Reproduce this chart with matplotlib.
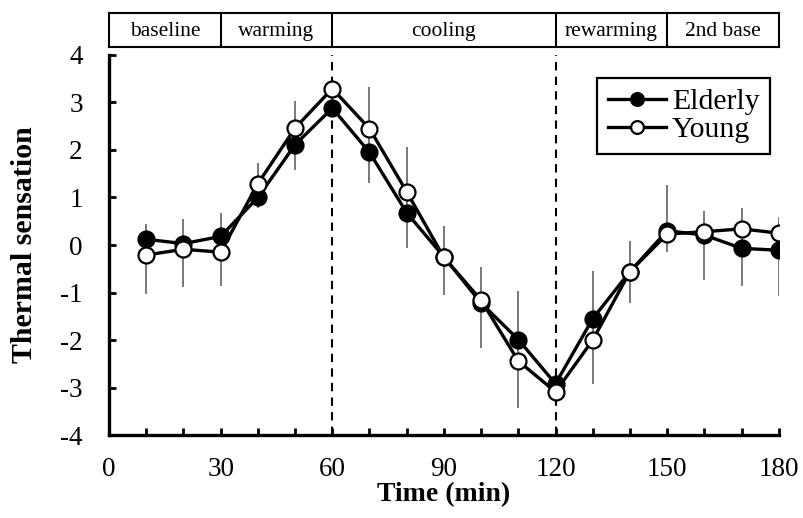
import matplotlib
matplotlib.use("Agg")
import matplotlib.pyplot as plt
import numpy as np

plt.rcParams['font.family'] = ['Liberation Serif', 'DejaVu Serif']
plt.rcParams['axes.unicode_minus'] = False

time = [10, 20, 30, 40, 50, 60, 70, 80, 90, 100, 110, 120, 130, 140, 150, 160, 170, 180]
elderly = [0.12, 0.03, 0.18, 1.0, 2.11, 2.88, 1.95, 0.68, -0.25, -1.22, -1.99, -2.92,
           -1.55, -0.56, 0.3, 0.21, -0.07, -0.11]
young = [-0.21, -0.09, -0.15, 1.29, 2.46, 3.29, 2.45, 1.12, -0.26, -1.16, -2.44, -3.09,
         -2.0, -0.56, 0.23, 0.28, 0.34, 0.25]
# error bar ends (one bar per time point, as drawn in the figure)
err_hi = [0.44, 0.55, 0.67, 1.72, 3.04, np.nan, 3.33, 2.07, 0.39, -0.47, -0.96, np.nan,
          -0.54, 0.08, 1.27, 0.72, 0.77, 0.58]
err_lo = [-1.03, -0.89, -0.87, 0.77, 1.58, np.nan, 1.31, -0.07, -1.05, -2.16, -3.42, np.nan,
          -2.93, -1.23, -0.14, -0.74, -0.87, -1.08]

phases = ['baseline', 'warming', 'cooling', 'rewarming', '2nd base']
phase_edges = [0, 30, 60, 120, 150, 180]

fig = plt.figure(figsize=(8.04, 5.18), dpi=100)
ax = fig.add_axes([0.1356, 0.160, 0.833, 0.734])

ax.vlines(time, err_lo, err_hi, color='#555555', lw=1.1, zorder=1)
for xv in [60, 120]:
    ax.plot([xv, xv], [-4, 4], color='black', lw=1.5, ls=(0, (4, 3)), zorder=1)

ax.plot(time, elderly, '-o', color='black', lw=2.4, ms=11.5, mfc='black',
        mec='black', mew=1.6, label='Elderly', zorder=3)
ax.plot(time, young, '-o', color='black', lw=2.4, ms=11.5, mfc='white',
        mec='black', mew=1.6, label='Young', zorder=4)

ax.set_xlim(0, 180)
ax.set_ylim(-4, 4)
ax.set_xticks(range(0, 181, 30))
ax.set_xticks(range(0, 181, 10), minor=True)
ax.set_yticks(range(-4, 5))
ax.spines['top'].set_visible(False)
ax.spines['right'].set_visible(False)
ax.spines['left'].set_linewidth(2.4)
ax.spines['bottom'].set_linewidth(2.4)
ax.tick_params(axis='both', which='both', direction='in', width=2, length=5, labelsize=19.5)
ax.tick_params(axis='x', which='major', pad=16)
ax.tick_params(axis='y', which='major', pad=19)
ax.set_xlabel('Time (min)', fontsize=20, fontweight='bold', labelpad=0)
ax.set_ylabel('Thermal sensation', fontsize=21.5, fontweight='bold', labelpad=16)

leg = ax.legend(loc='upper right', bbox_to_anchor=(0.987, 0.94), fontsize=21.5,
                fancybox=False, framealpha=1, edgecolor='black',
                handlelength=1.95, handletextpad=0.2, borderpad=0.35,
                borderaxespad=0, labelspacing=0.05, markerscale=0.8)
leg.get_frame().set_linewidth(1.6)

# phase box above the plot
axp = fig.add_axes([0.1356, 0.909, 0.833, 0.066])
axp.set_xlim(0, 180)
axp.set_ylim(0, 1)
axp.set_xticks([])
axp.set_yticks([])
for s in axp.spines.values():
    s.set_linewidth(1.5)
for e in phase_edges[1:-1]:
    axp.axvline(e, color='black', lw=1.5)
for i, name in enumerate(phases):
    axp.text((phase_edges[i] + phase_edges[i + 1]) / 2, 0.45, name,
             ha='center', va='center', fontsize=15.5)

fig.savefig('out.png', dpi=100)
